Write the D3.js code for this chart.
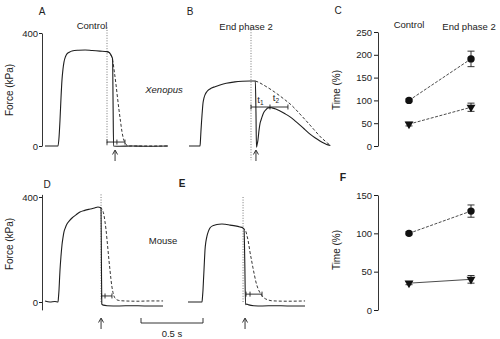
<!DOCTYPE html>
<html><head><meta charset="utf-8">
<script src="https://cdn.jsdelivr.net/npm/d3@7"></script>
<style>
body{margin:0;background:#fff}
svg{display:block}
text{font-family:"Liberation Sans",Arial,Helvetica,sans-serif;fill:#222}
</style>
</head><body>
<svg id="chart" width="500" height="339"></svg>
<script>
// ---------- DATA ----------
// Force traces: [time (s), force (kPa)]
const xenControlSolid = [[0,0],[0.105,0],[0.113,30],[0.121,92],[0.129,170],[0.137,234],[0.145,272],[0.153,297],[0.165,316],[0.177,326],[0.2,333],[0.218,336],[0.27,339],[0.323,340],[0.38,338],[0.444,336],[0.5,334],[0.52,330],[0.532,322],[0.545,308],[0.549,150],[0.553,0],[0.6,-1],[0.7,0],[0.8,-1],[0.992,0]];
const xenControlDashed = [[0.5,334],[0.52,330],[0.532,322],[0.548,297],[0.56,260],[0.573,216],[0.585,170],[0.597,127],[0.609,87],[0.621,50],[0.633,25],[0.645,11],[0.66,3],[0.68,0],[0.8,0],[0.992,0]];
const xenPhase2Solid = [[0,0],[0.089,0],[0.093,25],[0.097,57],[0.101,85],[0.105,110],[0.109,133],[0.113,152],[0.121,170],[0.129,181],[0.145,193],[0.169,202],[0.21,210],[0.25,216],[0.3,222],[0.371,227],[0.43,229],[0.492,230],[0.535,230],[0.54,120],[0.544,-4],[0.549,5],[0.556,21],[0.565,57],[0.573,80],[0.581,92],[0.593,108],[0.605,120],[0.621,129],[0.637,135],[0.653,136],[0.669,135],[0.7,131],[0.734,124],[0.775,114],[0.815,103],[0.855,89],[0.895,74],[0.935,58],[0.976,42],[1.016,29],[1.056,18],[1.09,10],[1.121,4],[1.14,2]];
const xenPhase2Dashed = [[0.535,230],[0.56,226],[0.589,219],[0.62,211],[0.653,202],[0.69,191],[0.734,177],[0.775,163],[0.815,149],[0.855,132],[0.895,113],[0.935,94],[0.976,74],[1.008,58],[1.04,42],[1.07,28],[1.097,18],[1.12,9],[1.137,4]];
const mouseControlSolid = [[0,4],[0.04,0],[0.08,2],[0.105,0],[0.109,20],[0.113,46],[0.117,85],[0.121,122],[0.129,175],[0.137,217],[0.145,245],[0.153,267],[0.165,284],[0.177,297],[0.198,310],[0.218,320],[0.25,332],[0.282,343],[0.32,349],[0.363,354],[0.4,358],[0.427,362],[0.445,360],[0.452,356],[0.455,150],[0.458,-8],[0.47,-12],[0.5,-14],[0.6,-15],[0.7,-14],[0.8,-15],[0.952,-15]];
const mouseControlDashed = [[0.445,360],[0.46,355],[0.468,345],[0.476,330],[0.484,305],[0.492,276],[0.5,238],[0.508,198],[0.516,158],[0.524,122],[0.532,86],[0.54,57],[0.548,37],[0.556,23],[0.568,13],[0.581,8],[0.61,5],[0.645,4],[0.75,3],[0.85,4],[0.952,4]];
const mousePhase2Solid = [[0,0],[0.113,0],[0.117,20],[0.121,46],[0.125,85],[0.129,122],[0.133,162],[0.137,198],[0.145,232],[0.153,251],[0.165,270],[0.177,282],[0.198,290],[0.218,293],[0.25,296],[0.274,297],[0.3,296],[0.339,293],[0.38,290],[0.419,286],[0.44,283],[0.452,278],[0.458,150],[0.464,-10],[0.472,-8],[0.49,-11],[0.53,-14],[0.6,-15],[0.7,-14],[0.8,-15],[0.944,-15]];
const mousePhase2Dashed = [[0.44,283],[0.452,278],[0.468,267],[0.476,252],[0.484,236],[0.492,214],[0.5,190],[0.512,160],[0.524,130],[0.536,102],[0.548,76],[0.56,57],[0.573,42],[0.589,29],[0.605,19],[0.625,12],[0.645,8],[0.67,5],[0.702,4],[0.8,3],[0.944,4]];

// Event times (s): dotted marker, stimulus arrow, measurement brackets [start, mid, end, force]
const markerTimes = {A:0.5, B:0.5, D:0.452, E:0.444};
const arrowTimes  = {A:0.565, B:0.54, D:0.452, E:0.46};
const brackets = {A:[0.5,0.58,0.645,14], B:[0.5,0.653,0.798,138], D:[0.456,0.484,0.54,23], E:[0.468,0.5,0.597,30]};

// Summary panels (C: Xenopus, F: mouse), time in % of control
const conditions = ["Control", "End phase 2"];
const xenTotal = [100, 191], xenTotalErr = [3, 17];
const xenT1 = [48, 85], xenT1Err = [4, 9];
const mouseTotal = [100, 129], mouseTotalErr = [2, 8];
const mouseT1 = [35, 40], mouseT1Err = [2, 5];

const forceTicks = [0, 400];
const timeTicksC = [0, 50, 100, 150, 200, 250];
const timeTicksF = [0, 50, 100, 150];
const scaleBarSeconds = 0.5;

// ---------- DRAW ----------
const svg = d3.select("#chart");
const ink = "#1e1e1e";
const pxPerSec = 124;

const yTop = d3.scaleLinear().domain([0, 400]).range([146, 33]);
const yBot = d3.scaleLinear().domain([0, 400]).range([302, 197]);
const xA = d3.scaleLinear().domain([0, 1]).range([45, 45 + pxPerSec]);
const xB = d3.scaleLinear().domain([0, 1]).range([189, 189 + pxPerSec]);
const xD = d3.scaleLinear().domain([0, 1]).range([45, 45 + pxPerSec]);
const xE = d3.scaleLinear().domain([0, 1]).range([188, 188 + pxPerSec]);

function text(x, y, s, opts = {}) {
  const t = svg.append("text").attr("x", x).attr("y", y)
    .attr("font-size", opts.size || 9.5)
    .attr("text-anchor", opts.anchor || "middle")
    .attr("font-weight", opts.weight || "normal")
    .attr("font-style", opts.style || "normal")
    .text(s);
  if (opts.rotate) t.attr("transform", `rotate(-90,${x},${y})`);
  return t;
}

function forceAxis(x, y, ext) {
  const s = y.copy().domain(ext).range(ext.map(y));
  const g = svg.append("g").attr("transform", `translate(${x},0)`)
    .call(d3.axisLeft(s).tickValues(forceTicks).tickSize(3).tickSizeOuter(0).tickFormat(d3.format("d")));
  g.select(".domain").attr("stroke", ink).attr("stroke-width", 0.9);
  g.selectAll(".tick line").attr("stroke", ink);
  g.selectAll(".tick text").attr("font-size", 9.5).attr("fill", ink).attr("x", -4)
    .style("font-family", '"Liberation Sans",Arial,sans-serif');
}

function trace(data, x, y, dashed) {
  const line = d3.line().x(d => x(d[0])).y(d => y(d[1])).curve(d3.curveMonotoneX);
  svg.append("path").datum(data).attr("d", line)
    .attr("fill", "none").attr("stroke", ink).attr("stroke-width", dashed ? 0.9 : 1.1)
    .attr("stroke-dasharray", dashed ? "3,2" : null)
    .attr("stroke-linejoin", "round");
}

function dotted(t, x, y, f0, f1) {
  svg.append("line").attr("x1", x(t)).attr("x2", x(t)).attr("y1", y(f0)).attr("y2", y(f1))
    .attr("stroke", "#555").attr("stroke-width", 0.8).attr("stroke-dasharray", "1,1.6");
}

function bracket(b, x, y) {
  const [t0, tm, t1, f] = b, yy = y(f);
  svg.append("line").attr("x1", x(t0)).attr("x2", x(t1)).attr("y1", yy).attr("y2", yy)
    .attr("stroke", ink).attr("stroke-width", 0.9);
  [t0, tm, t1].forEach(t => svg.append("line").attr("x1", x(t)).attr("x2", x(t))
    .attr("y1", yy - 2.5).attr("y2", yy + 2.5).attr("stroke", ink).attr("stroke-width", 0.9));
}

function stimArrow(t, x, yBase) {
  const ax = x(t);
  svg.append("line").attr("x1", ax).attr("x2", ax).attr("y1", yBase + 5).attr("y2", yBase + 15)
    .attr("stroke", ink).attr("stroke-width", 0.9);
  svg.append("path").attr("d", `M${ax - 2.5},${yBase + 8.5}L${ax},${yBase + 4}L${ax + 2.5},${yBase + 8.5}`)
    .attr("fill", "none").attr("stroke", ink).attr("stroke-width", 0.9);
}

// Panel A
text(42, 15, "A", {size: 10});
text(92, 29, "Control");
forceAxis(42, yTop, [0, 400]);
text(13, 90, "Force (kPa)", {rotate: true, size: 10});
dotted(markerTimes.A, xA, yTop, 420, 0);
trace(xenControlSolid, xA, yTop, false);
trace(xenControlDashed, xA, yTop, true);
bracket(brackets.A, xA, yTop);
stimArrow(arrowTimes.A, xA, yTop(0));

// Panel B
text(190, 15, "B", {size: 10});
text(246, 30, "End phase 2");
dotted(markerTimes.B, xB, yTop, 421, -50);
trace(xenPhase2Solid, xB, yTop, false);
trace(xenPhase2Dashed, xB, yTop, true);
bracket(brackets.B, xB, yTop);
stimArrow(arrowTimes.B, xB, yTop(0));
const t1x = xB((brackets.B[0] + brackets.B[1]) / 2), t2x = xB((brackets.B[1] + brackets.B[2]) / 2);
const tl1 = text(t1x, yTop(brackets.B[3]) - 4, "t", {size: 9.5});
tl1.append("tspan").attr("font-size", 6.5).attr("dy", 2).text("1");
const tl2 = text(t2x - 3, yTop(brackets.B[3]) - 6, "t", {size: 9.5});
tl2.append("tspan").attr("font-size", 6.5).attr("dy", 2).text("2");
text(164, 93, "Xenopus", {style: "italic"});

// Panel D
text(47, 188, "D", {size: 10});
forceAxis(42, yBot, [-30, 410]);
text(13, 244, "Force (kPa)", {rotate: true, size: 10});
dotted(markerTimes.D, xD, yBot, 410, 0);
trace(mouseControlSolid, xD, yBot, false);
trace(mouseControlDashed, xD, yBot, true);
bracket(brackets.D, xD, yBot);
stimArrow(arrowTimes.D, xD, yBot(0) + 12);

// Panel E
text(182, 187, "E", {size: 10, weight: "bold"});
text(163, 244, "Mouse");
dotted(markerTimes.E, xE, yBot, 400, 0);
trace(mousePhase2Solid, xE, yBot, false);
trace(mousePhase2Dashed, xE, yBot, true);
bracket(brackets.E, xE, yBot);
stimArrow(arrowTimes.E, xE, yBot(0) + 12);

// Scale bar
const sbX0 = 141, sbLen = xE(scaleBarSeconds) - xE(0), sbY = 323;
svg.append("path").attr("d", `M${sbX0},${sbY - 5}V${sbY}H${sbX0 + sbLen}V${sbY - 5}`)
  .attr("fill", "none").attr("stroke", ink).attr("stroke-width", 0.9);
text(sbX0 + sbLen / 2, 337, scaleBarSeconds + " s");

// Summary panels
const xCat = d3.scalePoint().domain(conditions).range([409, 471]);
function summary(yS, ticks, letter, letterY, labelY, series) {
  const g = svg.append("g").attr("transform", "translate(378,0)")
    .call(d3.axisLeft(yS).tickValues(ticks).tickSize(4).tickSizeOuter(0));
  g.select(".domain").attr("stroke", ink).attr("stroke-width", 0.9);
  g.selectAll(".tick line").attr("stroke", ink);
  g.selectAll(".tick text").attr("font-size", 9.5).attr("fill", ink).attr("x", -6)
    .style("font-family", '"Liberation Sans",Arial,sans-serif');
  text(340, labelY, "Time (%)", {rotate: true, size: 10});
  series.forEach(s => {
    const pts = conditions.map((c, i) => [xCat(c), yS(s.vals[i]), s.errs[i], s.vals[i]]);
    svg.append("line").attr("x1", pts[0][0]).attr("y1", pts[0][1]).attr("x2", pts[1][0]).attr("y2", pts[1][1])
      .attr("stroke", ink).attr("stroke-width", 0.8).attr("stroke-dasharray", s.dash ? "3,1.5" : null);
    pts.forEach(p => {
      const lo = yS(p[3] - p[2]), hi = yS(p[3] + p[2]);
      svg.append("line").attr("x1", p[0]).attr("x2", p[0]).attr("y1", lo).attr("y2", hi).attr("stroke", ink).attr("stroke-width", 0.9);
      [lo, hi].forEach(yy => svg.append("line").attr("x1", p[0] - 3.5).attr("x2", p[0] + 3.5).attr("y1", yy).attr("y2", yy).attr("stroke", ink).attr("stroke-width", 0.9));
      if (s.shape === "circle") {
        svg.append("circle").attr("cx", p[0]).attr("cy", p[1]).attr("r", 3.7).attr("fill", "#111");
      } else {
        svg.append("path").attr("d", d3.symbol(d3.symbolTriangle, 34)())
          .attr("transform", `translate(${p[0]},${p[1]}) rotate(180)`).attr("fill", "#111");
      }
    });
  });
}

const yC = d3.scaleLinear().domain([0, 250]).range([146, 32]);
text(338, 14, "C", {size: 10});
text(xCat("Control"), 28, "Control");
text(xCat("End phase 2") - 2, 30, "End phase 2");
summary(yC, timeTicksC, "C", 14, 90, [
  {vals: xenTotal, errs: xenTotalErr, shape: "circle", dash: true},
  {vals: xenT1, errs: xenT1Err, shape: "triangle", dash: true}
]);

const yF = d3.scaleLinear().domain([0, 150]).range([310, 195]);
text(343, 181, "F", {size: 10.5, weight: "bold"});
summary(yF, timeTicksF, "F", 181, 250, [
  {vals: mouseTotal, errs: mouseTotalErr, shape: "circle", dash: true},
  {vals: mouseT1, errs: mouseT1Err, shape: "triangle", dash: false}
]);
</script>
</body></html>
